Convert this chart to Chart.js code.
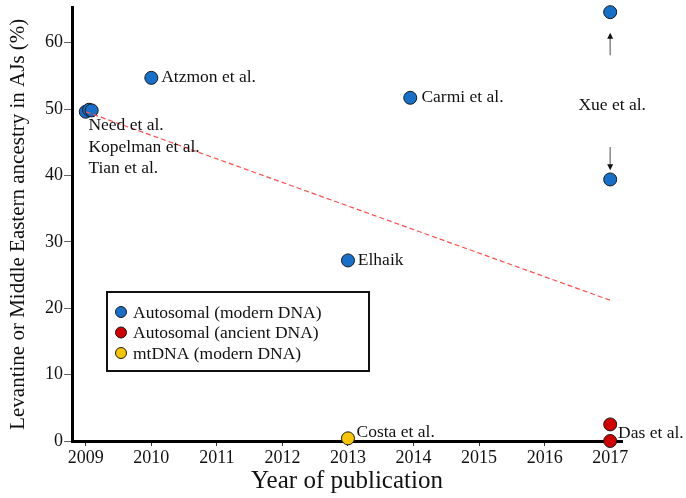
<!DOCTYPE html>
<html>
<head>
<meta charset="utf-8">
<script src="https://cdn.jsdelivr.net/npm/chart.js@4/dist/chart.umd.min.js"></script>
<style>
  html, body { margin: 0; padding: 0; background: #fff; }
  #wrap { width: 686px; height: 498px; position: relative; }
</style>
</head>
<body>
<div id="wrap"><canvas id="chart"></canvas></div>
<script>
"use strict";

/* AJ Levantine / Middle Eastern ancestry estimates by publication year. */

const autosomalModernX = [2009.0, 2009.05, 2009.09, 2010.0, 2013.0, 2013.95, 2017.0, 2017.0];
const autosomalModernY = [49.6, 49.9, 49.8, 54.7, 27.2, 51.7, 64.6, 39.4];
const autosomalAncientX = [2017.0, 2017.0];
const autosomalAncientY = [2.5, 0.0];
const mtdnaX = [2013.0];
const mtdnaY = [0.4];
const trendX = [2009.0, 2017.0];
const trendY = [49.6, 21.2];

const xTicks = [2009, 2010, 2011, 2012, 2013, 2014, 2015, 2016, 2017];
const yTicks = [0, 10, 20, 30, 40, 50, 60];

const studyLabels = ["Atzmon et al.", "Carmi et al.", "Need et al.", "Kopelman et al.", "Tian et al.", "Elhaik", "Costa et al.", "Das et al.", "Xue et al."];
const labelX = [2010.15, 2014.12, 2009.04, 2009.04, 2009.04, 2013.15, 2013.13, 2017.12, 2017.03];
const labelY = [54.7, 51.7, 47.5, 44.2, 41.0, 27.2, 1.3, 1.2, 50.6];
const labelAlign = ["left", "left", "left", "left", "left", "left", "left", "left", "center"];

// Xue et al. arrows: [fromY, toY] at x = 2017
const arrowFrom = [58.1, 44.3];
const arrowTo = [61.5, 40.8];

const legendNames = ["Autosomal (modern DNA)", "Autosomal (ancient DNA)", "mtDNA (modern DNA)"];

const BLUE = "#1670c9";
const RED = "#d00000";
const YELLOW = "#f7c600";
const SERIF = '"Liberation Serif", "Times New Roman", serif';

const pts = (xs, ys) => xs.map((x, i) => ({ x, y: ys[i] }));

function dot(ctx, x, y, color, r) {
  ctx.beginPath();
  ctx.arc(x, y, r, 0, Math.PI * 2);
  ctx.fillStyle = color;
  ctx.fill();
  ctx.lineWidth = 1;
  ctx.strokeStyle = "#1a1a1a";
  ctx.stroke();
}

const annotations = {
  id: "annotations",
  afterDatasetsDraw(chart) {
    const { ctx, scales: { x, y } } = chart;
    ctx.save();
    // study labels
    ctx.font = `17.5px ${SERIF}`;
    ctx.fillStyle = "#111";
    ctx.textBaseline = "middle";
    studyLabels.forEach((t, i) => {
      ctx.textAlign = labelAlign[i];
      ctx.fillText(t, x.getPixelForValue(labelX[i]), y.getPixelForValue(labelY[i]));
    });
    // arrows
    arrowFrom.forEach((from, i) => {
      const px = x.getPixelForValue(2017);
      const y0 = y.getPixelForValue(from);
      const y1 = y.getPixelForValue(arrowTo[i]);
      const dir = y1 < y0 ? -1 : 1;
      ctx.strokeStyle = "#888";
      ctx.lineWidth = 1.5;
      ctx.beginPath();
      ctx.moveTo(px, y0);
      ctx.lineTo(px, y1 - dir * 5);
      ctx.stroke();
      ctx.fillStyle = "#111";
      ctx.beginPath();
      ctx.moveTo(px, y1);
      ctx.lineTo(px - 3, y1 - dir * 6);
      ctx.lineTo(px + 3, y1 - dir * 6);
      ctx.closePath();
      ctx.fill();
    });
    // legend box
    const bx = 107, by = 292, bw = 262, bh = 79;
    ctx.strokeStyle = "#111";
    ctx.lineWidth = 2;
    ctx.strokeRect(bx, by, bw, bh);
    const colors = [BLUE, RED, YELLOW];
    ctx.textAlign = "left";
    ctx.font = `17.5px ${SERIF}`;
    legendNames.forEach((name, i) => {
      const ly = by + 20 + i * 20.5;
      dot(ctx, bx + 14, ly, colors[i], 5.5);
      ctx.fillStyle = "#111";
      ctx.fillText(name, bx + 26, ly + 1);
    });
    ctx.restore();
  },
};

new Chart(document.getElementById("chart"), {
  type: "scatter",
  data: {
    datasets: [
      {
        label: "trend",
        data: pts(trendX, trendY),
        showLine: true,
        borderColor: "#ff4d4d",
        borderWidth: 1.2,
        borderDash: [5, 3],
        pointRadius: 0,
      },
      {
        label: legendNames[0],
        data: pts(autosomalModernX, autosomalModernY),
        backgroundColor: BLUE,
        borderColor: "#1a1a1a",
        borderWidth: 1,
        pointRadius: 6.5,
      },
      {
        label: legendNames[1],
        data: pts(autosomalAncientX, autosomalAncientY),
        backgroundColor: RED,
        borderColor: "#1a1a1a",
        borderWidth: 1,
        pointRadius: 6.5,
      },
      {
        label: legendNames[2],
        data: pts(mtdnaX, mtdnaY),
        backgroundColor: YELLOW,
        borderColor: "#1a1a1a",
        borderWidth: 1,
        pointRadius: 6.5,
      },
    ],
  },
  options: {
    responsive: true,
    maintainAspectRatio: false,
    animation: false,
    clip: false,
    layout: { padding: { top: 0, right: 64, left: 0, bottom: 0 } },
    plugins: { legend: { display: false }, tooltip: { enabled: false } },
    scales: {
      x: {
        type: "linear",
        min: 2008.79,
        max: 2017.18,
        afterBuildTicks: (s) => { s.ticks = xTicks.map((v) => ({ value: v })); },
        afterFit: (s) => { s.height = 57; },
        grid: { drawOnChartArea: false, drawTicks: true, tickLength: 5, color: "#333" },
        border: { display: true, color: "#000", width: 3 },
        ticks: { color: "#111", font: { family: SERIF, size: 18 }, padding: 1, maxRotation: 0, callback: (v) => String(v) },
        title: { display: true, text: "Year of publication", color: "#111", font: { family: SERIF, size: 25 }, padding: { top: 0, bottom: 2 } },
      },
      y: {
        type: "linear",
        min: 0,
        max: 65.3,
        afterBuildTicks: (s) => { s.ticks = yTicks.map((v) => ({ value: v })); },
        afterFit: (s) => { s.width = 72; s.paddingTop = 0; s.paddingBottom = 0; },
        grid: { drawOnChartArea: false, drawTicks: true, tickLength: 8, color: "#666" },
        border: { display: true, color: "#000", width: 3 },
        ticks: { color: "#111", font: { family: SERIF, size: 18 }, padding: 1 },
        title: { display: true, text: "Levantine or Middle Eastern ancestry in AJs (%)", color: "#111", font: { family: SERIF, size: 21 }, padding: { top: 6, bottom: 2 } },
      },
    },
  },
  plugins: [annotations],
});
</script>
</body>
</html>
